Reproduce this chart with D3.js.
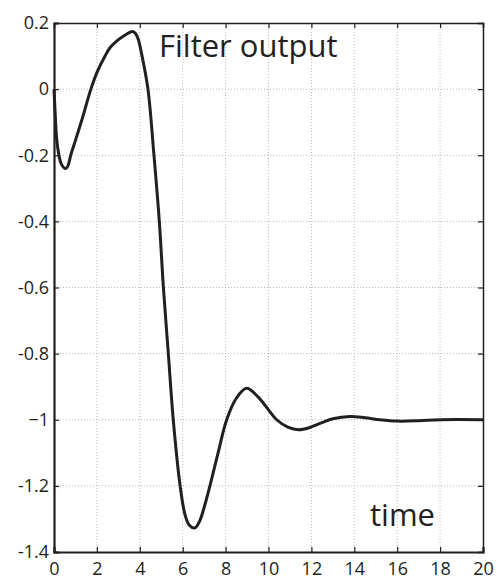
<!DOCTYPE html>
<html><head><meta charset="utf-8">
<script src="https://cdn.jsdelivr.net/npm/d3@7/dist/d3.min.js"></script>
<style>body{margin:0;background:#fff}svg{display:block}</style>
</head><body>
<script>
const times = [0,0.06,0.12,0.23,0.35,0.545,0.65,0.78,1.0,1.29,1.72,2.0,2.38,2.61,2.92,3.3,3.67,3.8,3.93,4.09,4.38,4.66,4.91,5.1,5.33,5.56,5.88,6.1,6.3,6.57,6.8,7.0,7.27,7.65,8.05,8.5,8.98,9.5,10.0,10.38,10.9,11.4,11.9,12.4,13.0,13.8,14.5,15.2,16,17,18,20];
const values = [0,-0.08,-0.147,-0.2,-0.228,-0.24,-0.232,-0.2,-0.155,-0.095,0,0.05,0.1,0.125,0.145,0.163,0.174,0.168,0.15,0.105,0,-0.2,-0.4,-0.6,-0.8,-1.0,-1.2,-1.285,-1.318,-1.327,-1.305,-1.265,-1.2,-1.1,-1.0,-0.935,-0.905,-0.93,-0.97,-1.0,-1.022,-1.03,-1.024,-1.011,-0.997,-0.99,-0.994,-1.0,-1.004,-1.003,-1.0,-1.0];
const xTicks = [0,2,4,6,8,10,12,14,16,18,20];
const yTicks = [0.2,0,-0.2,-0.4,-0.6,-0.8,-1,-1.2,-1.4];
const yTickLabels = ["0.2","0","-0.2","-0.4","-0.6","-0.8","\u22121","-1.2","-1.4"];
const title = "Filter output";
const xLabel = "time";

const W = 499, H = 584;
const L = 54, R = 483, T = 23, B = 552;
const ink = "#231f20";
const font = "'Open Sans', sans-serif";

const svg = d3.select("body").append("svg").attr("width", W).attr("height", H);
const x = d3.scaleLinear().domain([0,20]).range([L,R]);
const y = d3.scaleLinear().domain([-1.4,0.2]).range([B,T]);

// grid
const g = svg.append("g");
g.selectAll("line.vg").data(xTicks.slice(1,-1)).join("line")
  .attr("x1", d=>x(d)).attr("x2", d=>x(d)).attr("y1", T).attr("y2", B)
  .attr("stroke", "#b8b8b8").attr("stroke-width", 1).attr("stroke-dasharray", "1,2");
g.selectAll("line.hg").data(yTicks.slice(1,-1)).join("line")
  .attr("y1", d=>y(d)).attr("y2", d=>y(d)).attr("x1", L).attr("x2", R)
  .attr("stroke", "#b8b8b8").attr("stroke-width", 1).attr("stroke-dasharray", "1,2");

// axes with inward ticks
const axB = svg.append("g").attr("transform", `translate(0,${B})`)
  .call(d3.axisBottom(x).tickValues(xTicks).tickSize(-5).tickPadding(10).tickFormat(d3.format("d")));
const axT = svg.append("g").attr("transform", `translate(0,${T})`)
  .call(d3.axisTop(x).tickValues(xTicks).tickSize(-5).tickFormat(""));
const axL = svg.append("g").attr("transform", `translate(${L},0)`)
  .call(d3.axisLeft(y).tickValues(yTicks).tickSize(-5).tickPadding(10).tickFormat((d,i)=>yTickLabels[i]));
const axR = svg.append("g").attr("transform", `translate(${R},0)`)
  .call(d3.axisRight(y).tickValues(yTicks).tickSize(-5).tickFormat(""));

[axB, axT, axL, axR].forEach(a => {
  a.selectAll(".tick line").attr("stroke", ink).attr("stroke-width", 1.2);
  a.selectAll("text").attr("font-family", font).attr("font-size", 18).attr("fill", ink);
});
axB.select(".domain").attr("stroke", ink).attr("stroke-width", 2.2);
axL.select(".domain").attr("stroke", ink).attr("stroke-width", 2.2);
axT.select(".domain").attr("stroke", ink).attr("stroke-width", 1.5);
axR.select(".domain").attr("stroke", ink).attr("stroke-width", 1.5);
axL.selectAll(".tick text").attr("x", -5);

// curve
const pts = times.map((t,i)=>[t, values[i]]);
svg.append("path").datum(pts)
  .attr("fill", "none").attr("stroke", ink).attr("stroke-width", 3)
  .attr("stroke-linejoin", "round")
  .attr("d", d3.line().x(d=>x(d[0])).y(d=>y(d[1])).curve(d3.curveCatmullRom.alpha(0.5)));

svg.append("text").attr("x", 159).attr("y", 57).text(title)
  .attr("font-family", font).attr("font-size", 31).attr("fill", ink);
svg.append("text").attr("x", 370).attr("y", 526).text(xLabel)
  .attr("font-family", font).attr("font-size", 31).attr("fill", ink);
</script>
</body></html>
